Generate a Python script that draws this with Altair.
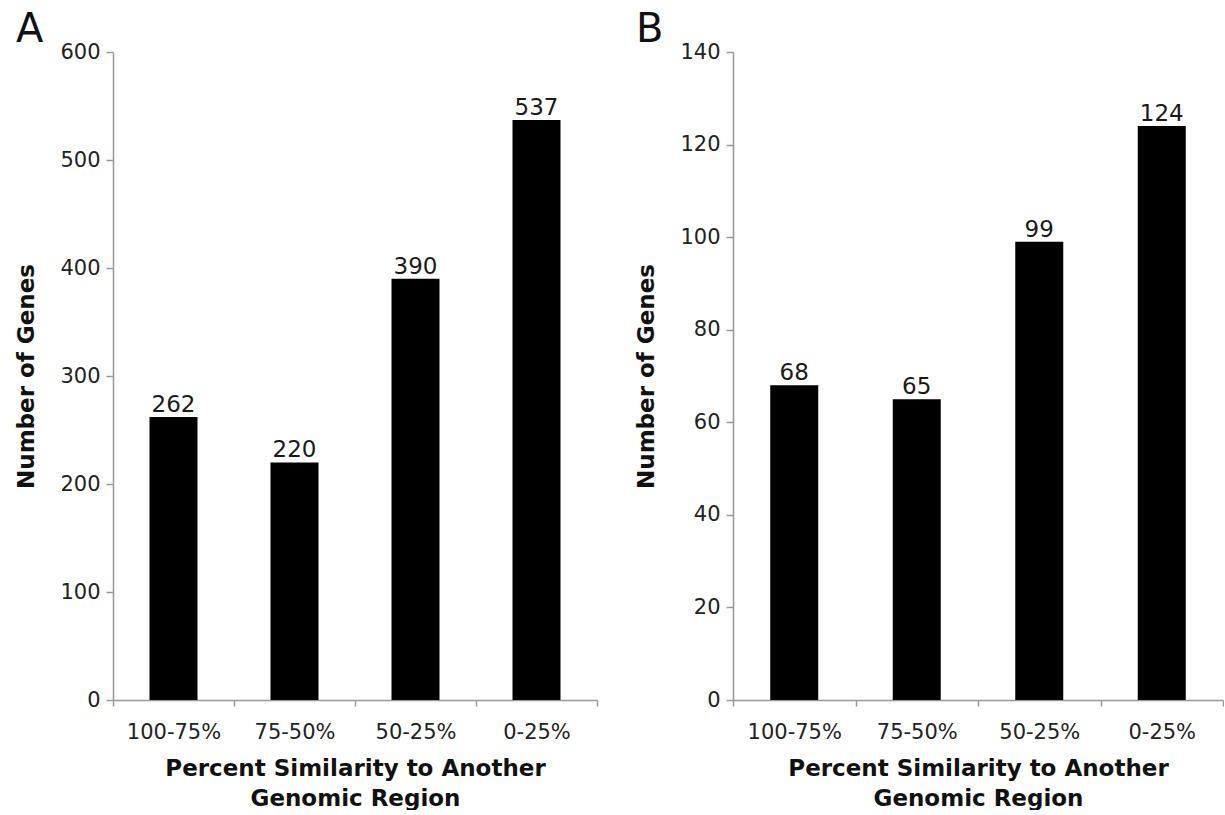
import altair as alt
import pandas as pd

# Gene counts per similarity bin
categories = ["100-75%", "75-50%", "50-25%", "0-25%"]
genes_a = [262, 220, 390, 537]
genes_b = [68, 65, 99, 124]

FONT = "DejaVu Sans"


def panel(letter, counts, ymax, step, width):
    df = pd.DataFrame({"similarity": categories, "genes": counts})
    x = alt.X(
        "similarity:N",
        sort=categories,
        title=["Percent Similarity to Another", "Genomic Region"],
        scale=alt.Scale(paddingInner=0, paddingOuter=0),
        axis=alt.Axis(
            labelAngle=0,
            tickBand="extent",
            tickSize=6,
            labelPadding=15,
            labelFontSize=21,
            titleFontSize=23,
            titleLineHeight=30,
            titlePadding=15,
        ),
    )
    y = alt.Y(
        "genes:Q",
        title="Number of Genes",
        scale=alt.Scale(domain=[0, ymax], nice=False),
        axis=alt.Axis(
            values=list(range(0, ymax + 1, step)),
            tickSize=7,
            labelPadding=6,
            labelFontSize=21,
            titleFontSize=23,
            titlePadding=21,
        ),
    )
    base = alt.Chart(df).encode(x=x, y=y)
    bars = base.mark_bar(color="black", size=48)
    labels = base.mark_text(
        baseline="alphabetic", dy=-5, fontSize=23, font=FONT, color="#1a1a1a"
    ).encode(text="genes:Q")
    return alt.layer(bars, labels).properties(
        width=width,
        height=648,
        title=alt.TitleParams(
            letter,
            anchor="start",
            frame="bounds",
            fontSize=40,
            font=FONT,
            fontWeight="normal",
            color="#111",
            offset=-9,
        ),
    )


chart = (
    alt.hconcat(
        panel("A", genes_a, 600, 100, 484),
        panel("B", genes_b, 140, 20, 490),
        spacing=37,
    )
    .properties(padding={"left": 15, "top": 10, "right": 0, "bottom": 0})
    .configure_view(stroke=None)
    .configure_axis(
        grid=False,
        labelFont=FONT,
        titleFont=FONT,
        titleFontWeight="bold",
        labelColor="#222",
        titleColor="#111",
        domainColor="#999",
        tickColor="#999",
        domainWidth=1.5,
        tickWidth=1.5,
    )
)

chart.save("out.html", embed_options={"renderer": "svg", "actions": False})
